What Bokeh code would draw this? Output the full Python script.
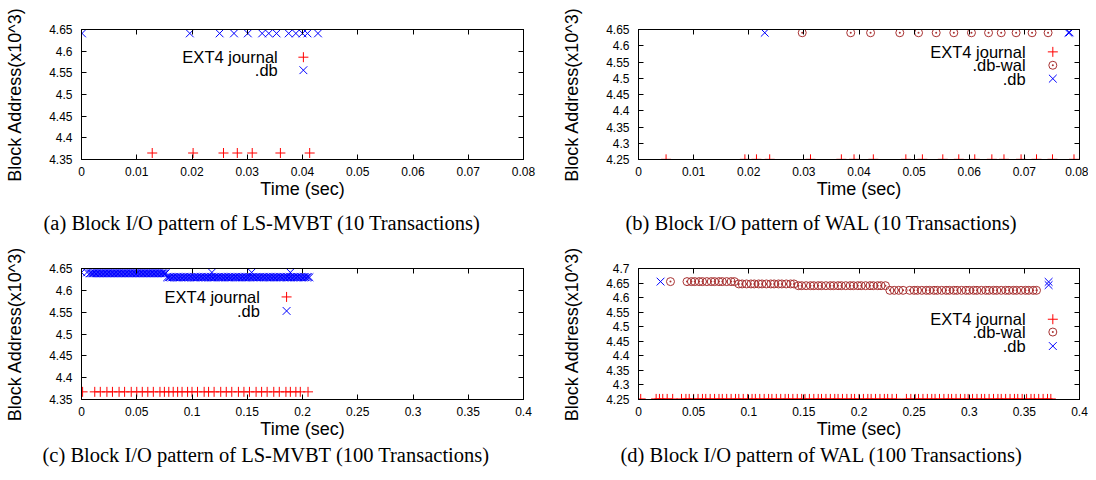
from bokeh.plotting import figure
from bokeh.models import Range1d, FixedTicker, LinearAxis, Title, Label
from bokeh.layouts import column, row
from bokeh.embed import file_html
from bokeh.resources import INLINE

# ---------------- tick values / labels ----------------
x_ticks_10 = [0, 0.01, 0.02, 0.03, 0.04, 0.05, 0.06, 0.07, 0.08]
x_labels_10 = ["0", "0.01", "0.02", "0.03", "0.04", "0.05", "0.06", "0.07", "0.08"]
x_ticks_100 = [0, 0.05, 0.1, 0.15, 0.2, 0.25, 0.3, 0.35, 0.4]
x_labels_100 = ["0", "0.05", "0.1", "0.15", "0.2", "0.25", "0.3", "0.35", "0.4"]
y_ticks_mvbt = [4.35, 4.4, 4.45, 4.5, 4.55, 4.6, 4.65]
y_labels_mvbt = ["4.35", "4.4", "4.45", "4.5", "4.55", "4.6", "4.65"]
y_ticks_wal10 = [4.25, 4.3, 4.35, 4.4, 4.45, 4.5, 4.55, 4.6, 4.65]
y_labels_wal10 = ["4.25", "4.3", "4.35", "4.4", "4.45", "4.5", "4.55", "4.6", "4.65"]
y_ticks_wal100 = [4.25, 4.3, 4.35, 4.4, 4.45, 4.5, 4.55, 4.6, 4.65, 4.7]
y_labels_wal100 = ["4.25", "4.3", "4.35", "4.4", "4.45", "4.5", "4.55", "4.6", "4.65", "4.7"]

series_names_mvbt = ["EXT4 journal", ".db"]
series_names_wal = ["EXT4 journal", ".db-wal", ".db"]

captions = [
    "(a) Block I/O pattern of LS-MVBT (10 Transactions)",
    "(b) Block I/O pattern of WAL (10 Transactions)",
    "(c) Block I/O pattern of LS-MVBT (100 Transactions)",
    "(d) Block I/O pattern of WAL (100 Transactions)",
]

# ---------------- (a) LS-MVBT, 10 transactions ----------------
a_journal_t = [0.0128, 0.0202, 0.0257, 0.0282, 0.0309, 0.0360, 0.0413]
a_journal_b = [4.365, 4.365, 4.365, 4.365, 4.365, 4.365, 4.365]
a_db_t = [0.0001, 0.0196, 0.0250, 0.0276, 0.0301, 0.0327, 0.0339, 0.0353,
          0.0375, 0.0388, 0.0400, 0.0409, 0.0428]
a_db_b = [4.641, 4.641, 4.641, 4.641, 4.641, 4.641, 4.641, 4.641,
          4.641, 4.641, 4.641, 4.641, 4.641]

# ---------------- (b) WAL, 10 transactions ----------------
b_journal_t = [0.0050, 0.0193, 0.0214, 0.0238, 0.0312, 0.0368, 0.0391, 0.0426,
               0.0485, 0.0515, 0.0552, 0.0581, 0.0610, 0.0641, 0.0663, 0.0694,
               0.0722, 0.0751, 0.0790]
b_journal_b = [4.2505] * len(b_journal_t)
b_wal_t = [0.0297, 0.0385, 0.0421, 0.0474, 0.0508, 0.0540, 0.0572, 0.0604,
           0.0635, 0.0658, 0.0685, 0.0714, 0.0743]
b_wal_b = [4.640] * len(b_wal_t)
b_db_t = [0.0229, 0.0780, 0.0782]
b_db_b = [4.640, 4.640, 4.641]

# ---------------- (c) LS-MVBT, 100 transactions ----------------
c_journal_t = [0.001, 0.012, 0.017, 0.023, 0.028, 0.034, 0.039, 0.045, 0.050, 0.055,
               0.060, 0.065, 0.071, 0.075, 0.079, 0.083, 0.087, 0.091, 0.096, 0.100,
               0.105, 0.111, 0.115, 0.120, 0.126, 0.131, 0.136, 0.142, 0.147, 0.152,
               0.158, 0.163, 0.168, 0.174, 0.179, 0.185, 0.189, 0.194, 0.198, 0.205]
c_journal_b = [4.3675] * len(c_journal_t)
# .db writes: a few isolated writes at 4.641, a dense run at 4.639 then at 4.630
c_db_top_t = [0.0000, 0.0050, 0.1180, 0.1540, 0.1890]
c_db_top_b = [4.641] * len(c_db_top_t)
c_db_upper_t = [0.0075, 0.0087, 0.0100, 0.0112, 0.0125, 0.0137, 0.0150, 0.0162, 0.0175,
                0.0187, 0.0200, 0.0212, 0.0225, 0.0237, 0.0250, 0.0262, 0.0275, 0.0287,
                0.0300, 0.0312, 0.0325, 0.0337, 0.0350, 0.0362, 0.0375, 0.0387, 0.0400,
                0.0412, 0.0425, 0.0437, 0.0450, 0.0462, 0.0475, 0.0487, 0.0500, 0.0512,
                0.0525, 0.0537, 0.0550, 0.0562, 0.0575, 0.0587, 0.0600, 0.0612, 0.0625,
                0.0637, 0.0650, 0.0662, 0.0675, 0.0687, 0.0700, 0.0712, 0.0725, 0.0737,
                0.0750, 0.0762]
c_db_upper_b = [4.639] * len(c_db_upper_t)
c_db_lower_t = [0.0775, 0.0788, 0.0800, 0.0814, 0.0826, 0.0839, 0.0851, 0.0865, 0.0877,
                0.0890, 0.0902, 0.0916, 0.0928, 0.0941, 0.0953, 0.0967, 0.0979, 0.0992,
                0.1004, 0.1018, 0.1030, 0.1043, 0.1055, 0.1069, 0.1081, 0.1094, 0.1106,
                0.1120, 0.1132, 0.1145, 0.1157, 0.1171, 0.1183, 0.1196, 0.1208, 0.1222,
                0.1234, 0.1247, 0.1259, 0.1273, 0.1285, 0.1298, 0.1310, 0.1324, 0.1336,
                0.1349, 0.1361, 0.1375, 0.1387, 0.1400, 0.1412, 0.1426, 0.1438, 0.1451,
                0.1463, 0.1477, 0.1489, 0.1502, 0.1514, 0.1528, 0.1540, 0.1553, 0.1565,
                0.1579, 0.1591, 0.1604, 0.1616, 0.1630, 0.1642, 0.1655, 0.1667, 0.1681,
                0.1693, 0.1706, 0.1718, 0.1732, 0.1744, 0.1757, 0.1769, 0.1783, 0.1795,
                0.1808, 0.1820, 0.1834, 0.1846, 0.1859, 0.1871, 0.1885, 0.1897, 0.1910,
                0.1922, 0.1936, 0.1948, 0.1961, 0.1973, 0.1987, 0.1999, 0.2012, 0.2024,
                0.2038, 0.2050, 0.2063]
c_db_lower_b = [4.630] * len(c_db_lower_t)
c_db_t = c_db_top_t + c_db_upper_t + c_db_lower_t
c_db_b = c_db_top_b + c_db_upper_b + c_db_lower_b

# ---------------- (d) WAL, 100 transactions ----------------
d_journal_t = [0.002, 0.016, 0.019, 0.022, 0.026, 0.031,
               0.039, 0.043, 0.046, 0.050, 0.054, 0.058, 0.061, 0.065, 0.069, 0.073,
               0.076, 0.080, 0.084, 0.088, 0.091, 0.095, 0.099, 0.103, 0.106, 0.110,
               0.114, 0.118, 0.121, 0.125, 0.129, 0.133, 0.136, 0.140, 0.144, 0.148,
               0.151, 0.155, 0.159, 0.163, 0.166, 0.170, 0.174, 0.178, 0.181, 0.185,
               0.189, 0.193, 0.196, 0.200, 0.204, 0.208, 0.211, 0.215, 0.219, 0.223,
               0.226, 0.230, 0.234,
               0.243, 0.247, 0.251, 0.254, 0.258, 0.262, 0.266, 0.269, 0.273, 0.277,
               0.281, 0.284, 0.288, 0.292, 0.296, 0.299, 0.303, 0.307, 0.311, 0.314,
               0.318, 0.322, 0.326, 0.329, 0.333, 0.337, 0.341, 0.344, 0.348, 0.352,
               0.356, 0.359, 0.363, 0.367, 0.371, 0.374]
d_journal_b = [4.252] * len(d_journal_t)
d_wal_t = [0.029,
           0.044, 0.048, 0.051, 0.055, 0.058, 0.062, 0.066, 0.069, 0.073, 0.076,
           0.080, 0.084, 0.087,
           0.091, 0.094, 0.098, 0.102, 0.105, 0.109, 0.112, 0.116, 0.120, 0.123,
           0.127, 0.130, 0.134, 0.138, 0.141,
           0.145, 0.148, 0.152, 0.156, 0.159, 0.163, 0.166, 0.170, 0.174, 0.177,
           0.181, 0.184, 0.188, 0.192, 0.195, 0.199, 0.202, 0.206, 0.210, 0.213,
           0.217, 0.220, 0.224,
           0.228, 0.232, 0.236, 0.240, 0.246, 0.250, 0.253, 0.257, 0.261, 0.264,
           0.268, 0.271, 0.275, 0.279, 0.282, 0.286, 0.289, 0.293, 0.297, 0.300,
           0.304, 0.307, 0.311, 0.315, 0.318, 0.322, 0.325, 0.329, 0.333, 0.336,
           0.340, 0.343, 0.347, 0.351, 0.354, 0.358, 0.361, 0.365, 0.369]
d_wal_b = [4.655] * 14 + [4.647] * 15 + [4.641] * 23 + [4.625] * 37
d_db_t = [0.020, 0.372, 0.372]
d_db_b = [4.655, 4.654, 4.643]

RED = "#ff0000"
BROWN = "#a83232"
BLUE = "#0000ff"
SANS = "Liberation Sans"
SERIF = "Liberation Serif"
MARKER_SIZE = {"cross": 10, "x": 11, "circle_dot": 8}


def style_axis(ax, ticks, labels):
    ax.ticker = FixedTicker(ticks=ticks)
    ax.major_label_overrides = dict(zip(ticks, labels))
    ax.major_tick_in = 5
    ax.major_tick_out = 0
    ax.minor_tick_line_color = None
    ax.axis_line_color = "black"
    ax.major_tick_line_color = "black"
    ax.major_label_text_font = SANS
    ax.major_label_text_font_size = "12px"
    ax.major_label_text_color = "black"


def mirror_axis(ticks):
    ax = LinearAxis(ticker=FixedTicker(ticks=ticks))
    ax.major_label_overrides = {t: "" for t in ticks}
    ax.major_label_standoff = 0
    ax.major_tick_in = 5
    ax.major_tick_out = 0
    ax.minor_tick_line_color = None
    ax.axis_line_color = "black"
    ax.major_tick_line_color = "black"
    return ax


def panel(xr, yr, xt, xl, yt, yl, series, caption, cap_off, cap_standoff,
          bl, fw, br, bt, fh, bb, leg_text_fx, leg_mark_fx, leg_fy):
    p = figure(frame_width=fw, frame_height=fh,
               x_range=Range1d(*xr), y_range=Range1d(*yr),
               output_backend="svg", toolbar_location=None,
               min_border_left=bl, min_border_right=br,
               min_border_top=bt, min_border_bottom=bb,
               background_fill_color="white", border_fill_color="white")
    p.xgrid.visible = False
    p.ygrid.visible = False
    p.outline_line_color = "black"
    p.outline_line_width = 1
    p.outline_line_alpha = 1.0

    style_axis(p.xaxis[0], xt, xl)
    style_axis(p.yaxis[0], yt, yl)
    p.xaxis[0].major_label_standoff = 7
    p.yaxis[0].major_label_standoff = 9
    p.xaxis[0].axis_label = "Time (sec)"
    p.yaxis[0].axis_label = "Block Address(x10^3)"
    for ax in (p.xaxis[0], p.yaxis[0]):
        ax.axis_label_text_font = SANS
        ax.axis_label_text_font_size = "18px"
        ax.axis_label_text_font_style = "normal"
        ax.axis_label_text_color = "black"
    p.xaxis[0].axis_label_standoff = 0
    p.yaxis[0].axis_label_standoff = 21

    p.add_layout(mirror_axis(xt), "above")
    p.add_layout(mirror_axis(yt), "right")

    x0, x1 = xr
    y0, y1 = yr
    for (name, t, b, marker, color), fy in zip(series, leg_fy):
        sz = MARKER_SIZE[marker]
        p.scatter(t, b, marker=marker, size=sz,
                  line_color=color, fill_color=None, line_width=1)
        ly = y0 + fy * (y1 - y0)
        p.scatter([x0 + leg_mark_fx * (x1 - x0)], [ly], marker=marker, size=sz,
                  line_color=color, fill_color=None, line_width=1)
        p.add_layout(Label(x=x0 + leg_text_fx * (x1 - x0), y=ly, text=name,
                           text_align="right", text_baseline="middle",
                           text_font=SANS, text_font_size="16.5px",
                           text_color="black"))

    cap = Title(text=caption, align="left", offset=cap_off,
                text_font=SERIF, text_font_size="20.5px", text_font_style="normal",
                text_color="black", standoff=cap_standoff)
    p.add_layout(cap, "below")
    return p


pa = panel((0, 0.08), (4.35, 4.65), x_ticks_10, x_labels_10, y_ticks_mvbt, y_labels_mvbt,
           [(series_names_mvbt[0], a_journal_t, a_journal_b, "cross", RED),
            (series_names_mvbt[1], a_db_t, a_db_b, "x", BLUE)],
           captions[0], -38, 16, 81, 442, 33, 29, 130, 85,
           0.444, 0.502, [0.787, 0.687])

pb = panel((0, 0.08), (4.25, 4.65), x_ticks_10, x_labels_10, y_ticks_wal10, y_labels_wal10,
           [(series_names_wal[0], b_journal_t, b_journal_b, "cross", RED),
            (series_names_wal[1], b_wal_t, b_wal_b, "circle_dot", BROWN),
            (series_names_wal[2], b_db_t, b_db_b, "x", BLUE)],
           captions[1], -13, 16, 82, 441, 9, 29, 130, 85,
           0.8777, 0.9395, [0.828, 0.725, 0.622])

pc = panel((0, 0.4), (4.35, 4.65), x_ticks_100, x_labels_100, y_ticks_mvbt, y_labels_mvbt,
           [(series_names_mvbt[0], c_journal_t, c_journal_b, "cross", RED),
            (series_names_mvbt[1], c_db_t, c_db_b, "x", BLUE)],
           captions[2], -39, 0, 81, 442, 33, 24, 131, 73,
           0.4037, 0.464, [0.783, 0.676])

pd_ = panel((0, 0.4), (4.25, 4.7), x_ticks_100, x_labels_100, y_ticks_wal100, y_labels_wal100,
            [(series_names_wal[0], d_journal_t, d_journal_b, "cross", RED),
             (series_names_wal[1], d_wal_t, d_wal_b, "circle_dot", BROWN),
             (series_names_wal[2], d_db_t, d_db_b, "x", BLUE)],
            captions[3], -18, 0, 82, 441, 9, 24, 131, 73,
            0.8777, 0.9395, [0.6126, 0.515, 0.408])

layout = column(row(pa, pb), row(pc, pd_))
open("out.html", "w").write(file_html(layout, INLINE))
